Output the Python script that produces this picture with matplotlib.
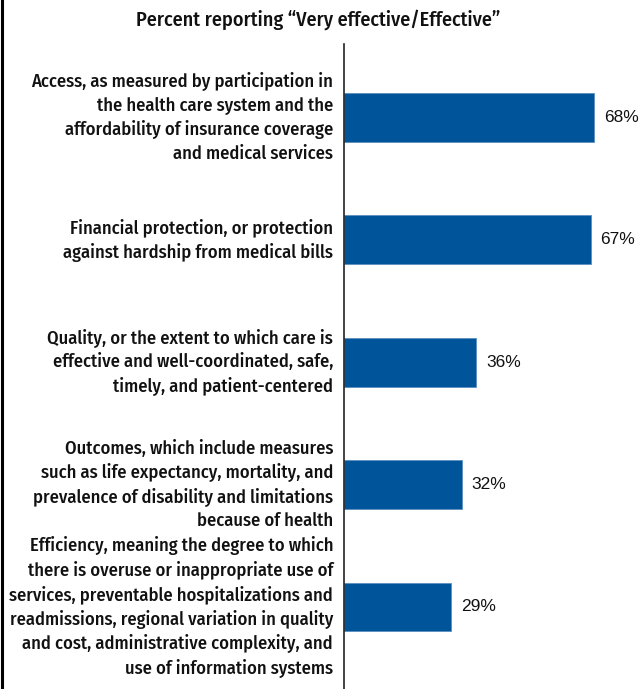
import matplotlib
matplotlib.use("Agg")
import matplotlib.pyplot as plt
from matplotlib.lines import Line2D

categories = [
    "Access, as measured by participation in\nthe health care system and the\naffordability of insurance coverage\nand medical services",
    "Financial protection, or protection\nagainst hardship from medical bills",
    "Quality, or the extent to which care is\neffective and well-coordinated, safe,\ntimely, and patient-centered",
    "Outcomes, which include measures\nsuch as life expectancy, mortality, and\nprevalence of disability and limitations\nbecause of health",
    "Efficiency, meaning the degree to which\nthere is overuse or inappropriate use of\nservices, preventable hospitalizations and\nreadmissions, regional variation in quality\nand cost, administrative complexity, and\nuse of information systems",
]
values = [68, 67, 36, 32, 29]
value_labels = ["68%", "67%", "36%", "32%", "29%"]
title = "Percent reporting \u201cVery effective/Effective\u201d"

W, H = 639, 689
fig = plt.figure(figsize=(W / 100, H / 100), dpi=100)
cond = ["Fira Sans Condensed", "Roboto Condensed", "DejaVu Sans"]
reg = ["Liberation Sans", "DejaVu Sans"]

ax_left = 344 / W
ax_bottom = 0.0
ax_top = 1 - 44 / H
ax = fig.add_axes([ax_left, ax_bottom, 1 - ax_left, ax_top - ax_bottom])

y = list(range(len(values)))
ax.barh(y, values, height=0.4, color="#00549A", edgecolor="#5b8fc0", linewidth=0.6)
px_per_pct = 3.68
ax.set_xlim(0, (W - 344) / px_per_pct)
ax.set_ylim(len(values) - 1 + 0.67, -0.6)
for s in ["top", "right", "bottom"]:
    ax.spines[s].set_visible(False)
ax.spines["left"].set_linewidth(1.2)
ax.spines["left"].set_color("#222222")
ax.set_xticks([])
ax.set_yticks([])

for yi, v, lab in zip(y, values, value_labels):
    ax.text(v + 10 / px_per_pct, yi, lab, va="center", ha="left",
            fontsize=12.5, family=reg, color="#111111")

for yi, cat in zip(y, categories):
    ax.annotate(cat, xy=(0, yi), xycoords="data", xytext=(-11, 0),
                textcoords="offset pixels", ha="right", va="center",
                fontsize=13.3, family=cond, fontweight="medium",
                linespacing=1.38, color="#111111")

fig.text(318 / W, 1 - 20 / H, title, ha="center", va="center",
         fontsize=14.5, family=cond, fontweight="medium", color="#111111")

fig.add_artist(Line2D([1.5 / W, 1.5 / W], [0, 1], transform=fig.transFigure,
                      color="black", linewidth=2.2))

fig.savefig("out.png", dpi=100)
